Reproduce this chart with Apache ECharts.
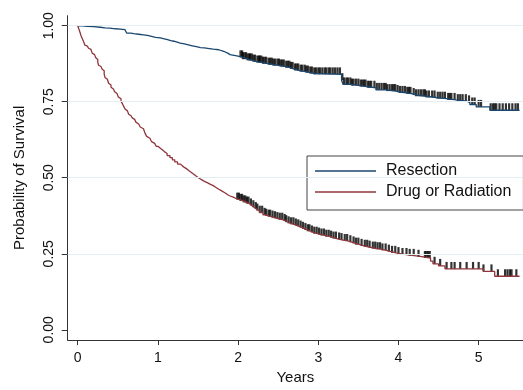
<!DOCTYPE html>
<html>
<head>
<meta charset="utf-8">
<script src="https://cdn.jsdelivr.net/npm/echarts@6/dist/echarts.min.js"></script>
<style>
html,body{margin:0;padding:0;background:#fff;}
#chart{width:523px;height:390px;}
</style>
</head>
<body>
<div id="chart"></div>
<script>
// ---- data ----
var seriesNames = ['Resection', 'Drug or Radiation'];
var xTicks = [0, 1, 2, 3, 4, 5];
var yTicks = [0, 0.25, 0.5, 0.75, 1];
var gridValues = [0.25, 0.5, 0.75, 1];

// Resection: Kaplan-Meier step points (time in years, survival)
var resectionT = [0, 0.06, 0.12, 0.20, 0.28, 0.34, 0.40, 0.47, 0.53, 0.59, 0.61, 0.66, 0.70, 0.76, 0.82, 0.87, 0.92, 0.97, 1.03, 1.08, 1.12, 1.16, 1.20, 1.24, 1.28, 1.33, 1.38, 1.43, 1.48, 1.53, 1.58, 1.64, 1.69, 1.76, 1.82, 1.87, 1.90, 2.00, 2.06, 2.12, 2.18, 2.23, 2.31, 2.38, 2.44, 2.52, 2.58, 2.65, 2.69, 2.76, 2.84, 2.90, 2.94, 3.29, 3.31, 3.42, 3.52, 3.60, 3.72, 3.85, 3.97, 4.01, 4.10, 4.18, 4.22, 4.35, 4.47, 4.60, 4.72, 4.85, 4.89, 4.97, 5.14, 5.51];
var resectionS = [1.0, 0.998, 0.997, 0.995, 0.993, 0.992, 0.990, 0.989, 0.987, 0.981, 0.976, 0.974, 0.972, 0.970, 0.968, 0.965, 0.962, 0.960, 0.957, 0.954, 0.951, 0.949, 0.946, 0.943, 0.940, 0.937, 0.934, 0.931, 0.928, 0.927, 0.925, 0.923, 0.921, 0.916, 0.910, 0.905, 0.900, 0.896, 0.890, 0.886, 0.882, 0.879, 0.875, 0.872, 0.869, 0.866, 0.862, 0.858, 0.853, 0.849, 0.846, 0.843, 0.840, 0.821, 0.807, 0.803, 0.800, 0.796, 0.789, 0.785, 0.782, 0.779, 0.776, 0.772, 0.768, 0.764, 0.760, 0.756, 0.752, 0.748, 0.741, 0.733, 0.722, 0.722];

// Drug or Radiation
var drugT = [0, 0.01, 0.02, 0.03, 0.04, 0.055, 0.07, 0.08, 0.09, 0.105, 0.12, 0.135, 0.15, 0.165, 0.18, 0.195, 0.21, 0.225, 0.24, 0.25, 0.26, 0.275, 0.29, 0.305, 0.32, 0.33, 0.34, 0.355, 0.37, 0.385, 0.40, 0.415, 0.43, 0.445, 0.46, 0.475, 0.49, 0.505, 0.52, 0.54, 0.56, 0.575, 0.59, 0.605, 0.62, 0.635, 0.65, 0.665, 0.68, 0.695, 0.71, 0.725, 0.74, 0.76, 0.78, 0.80, 0.82, 0.84, 0.86, 0.88, 0.90, 0.92, 0.94, 0.96, 0.98, 1.005, 1.03, 1.055, 1.08, 1.115, 1.15, 1.18, 1.21, 1.245, 1.28, 1.305, 1.33, 1.355, 1.38, 1.405, 1.43, 1.455, 1.48, 1.505, 1.53, 1.555, 1.58, 1.615, 1.65, 1.69, 1.725, 1.76, 1.80, 1.84, 1.87, 1.90, 1.94, 1.98, 2.02, 2.065, 2.11, 2.14, 2.17, 2.20, 2.23, 2.27, 2.31, 2.345, 2.38, 2.415, 2.45, 2.485, 2.52, 2.555, 2.59, 2.625, 2.66, 2.695, 2.73, 2.765, 2.80, 2.835, 2.87, 2.905, 2.94, 2.99, 3.04, 3.095, 3.15, 3.19, 3.23, 3.27, 3.31, 3.365, 3.42, 3.47, 3.52, 3.57, 3.62, 3.67, 3.72, 3.785, 3.85, 3.91, 3.97, 4.05, 4.12, 4.22, 4.31, 4.40, 4.43, 4.50, 4.58, 5.06, 5.20, 5.51];
var drugS = [1.0, 0.992, 0.985, 0.977, 0.968, 0.959, 0.950, 0.944, 0.936, 0.933, 0.930, 0.926, 0.922, 0.916, 0.910, 0.905, 0.900, 0.895, 0.889, 0.880, 0.870, 0.866, 0.862, 0.857, 0.852, 0.841, 0.830, 0.824, 0.818, 0.811, 0.805, 0.798, 0.792, 0.788, 0.783, 0.777, 0.772, 0.766, 0.760, 0.751, 0.742, 0.734, 0.726, 0.720, 0.714, 0.709, 0.704, 0.700, 0.697, 0.692, 0.688, 0.683, 0.677, 0.672, 0.667, 0.661, 0.656, 0.646, 0.636, 0.630, 0.625, 0.619, 0.613, 0.608, 0.603, 0.597, 0.592, 0.586, 0.580, 0.573, 0.566, 0.559, 0.552, 0.545, 0.539, 0.534, 0.530, 0.525, 0.520, 0.515, 0.510, 0.505, 0.500, 0.496, 0.492, 0.488, 0.484, 0.479, 0.474, 0.468, 0.462, 0.456, 0.450, 0.444, 0.440, 0.436, 0.431, 0.428, 0.424, 0.419, 0.415, 0.409, 0.403, 0.397, 0.392, 0.385, 0.378, 0.375, 0.372, 0.369, 0.367, 0.364, 0.362, 0.358, 0.354, 0.350, 0.347, 0.343, 0.340, 0.336, 0.332, 0.328, 0.324, 0.320, 0.316, 0.313, 0.310, 0.306, 0.303, 0.300, 0.297, 0.295, 0.292, 0.288, 0.284, 0.280, 0.276, 0.273, 0.270, 0.267, 0.265, 0.261, 0.257, 0.253, 0.249, 0.246, 0.243, 0.240, 0.236, 0.226, 0.217, 0.210, 0.200, 0.192, 0.176, 0.176];

// censoring times
var resectionCens = [2.03,2.05,2.06,2.08,2.10,2.12,2.14,2.15,2.17,2.19,2.21,2.24,2.26,2.27,2.29,2.31,2.33,2.35,2.38,2.40,2.42,2.44,2.46,2.49,2.51,2.53,2.55,2.57,2.60,2.62,2.64,2.66,2.68,2.71,2.73,2.75,2.78,2.80,2.83,2.85,2.87,2.90,2.92,2.95,2.97,3.00,3.02,3.05,3.08,3.10,3.13,3.15,3.18,3.21,3.24,3.27,3.30,3.32,3.35,3.37,3.40,3.42,3.44,3.47,3.50,3.53,3.55,3.57,3.59,3.62,3.64,3.66,3.70,3.73,3.76,3.79,3.82,3.84,3.86,3.89,3.92,3.94,3.96,3.99,4.02,4.05,4.08,4.11,4.13,4.15,4.19,4.22,4.25,4.28,4.31,4.33,4.35,4.38,4.42,4.45,4.49,4.52,4.55,4.58,4.62,4.64,4.66,4.70,4.74,4.77,4.80,4.84,4.88,4.92,4.95,5.00,5.03,5.15,5.18,5.20,5.22,5.26,5.30,5.34,5.38,5.42,5.46,5.49];
var drugCens = [1.99,2.01,2.03,2.05,2.07,2.09,2.11,2.13,2.16,2.19,2.22,2.24,2.27,2.30,2.33,2.35,2.38,2.40,2.43,2.46,2.49,2.52,2.55,2.58,2.60,2.63,2.66,2.69,2.72,2.75,2.78,2.81,2.84,2.87,2.89,2.92,2.95,2.98,3.01,3.04,3.07,3.10,3.13,3.16,3.19,3.22,3.26,3.29,3.33,3.36,3.40,3.44,3.47,3.50,3.54,3.58,3.61,3.64,3.68,3.71,3.74,3.77,3.80,3.84,3.88,3.92,3.96,4.00,4.05,4.10,4.14,4.19,4.25,4.33,4.35,4.37,4.39,4.45,4.52,4.60,4.66,4.70,4.77,4.85,4.93,5.00,5.06,5.16,5.24,5.33,5.36,5.39,5.41,5.47];

// ---- build ----
function pairs(t, s) { return t.map(function (v, i) { return [v, s[i]]; }); }
function survAt(t, T, S) {
  var v = S[0];
  for (var i = 0; i < T.length; i++) { if (T[i] <= t) v = S[i]; else break; }
  return v;
}
function censPts(C, T, S) { return C.map(function (c) { return [c, survAt(c, T, S)]; }); }

var FONT = 'Liberation Sans, Arial, Helvetica, sans-serif';
var BLUE = '#1a476f', RED = '#90353b';

var chart = echarts.init(document.getElementById('chart'), null, {renderer: 'canvas'});
chart.setOption({
  animation: false,
  backgroundColor: '#ffffff',
  textStyle: {fontFamily: FONT},
  grid: {left: 67.7, top: 15.7, width: 455.3, height: 332.6, containLabel: false},
  xAxis: {
    type: 'value', min: -0.125, max: 5.553,
    name: 'Years', nameLocation: 'middle', nameGap: 27,
    nameTextStyle: {fontFamily: FONT, fontSize: 15, color: '#111'},
    axisLine: {show: true, onZero: false, lineStyle: {color: '#333', width: 1}},
    axisTick: {show: true, length: 5, lineStyle: {color: '#333'}, customValues: xTicks},
    axisLabel: {customValues: xTicks, margin: 11, fontFamily: FONT, fontSize: 14, color: '#111',
      formatter: function (v) { return String(Math.round(v)); }},
    splitLine: {show: false}
  },
  yAxis: {
    type: 'value', min: -0.034, max: 1.033,
    name: 'Probability of Survival', nameLocation: 'middle', nameGap: 40,
    nameTextStyle: {fontFamily: FONT, fontSize: 15, color: '#111'},
    axisLine: {show: true, onZero: false, lineStyle: {color: '#333', width: 1}},
    axisTick: {show: true, length: 6, lineStyle: {color: '#333'}, customValues: yTicks},
    axisLabel: {customValues: yTicks, rotate: 90, margin: 12, fontFamily: FONT, fontSize: 14, color: '#111',
      formatter: function (v) { return v.toFixed(2); }},
    splitLine: {show: false}
  },
  legend: {
    data: [
      {name: seriesNames[0], icon: 'rect', itemStyle: {color: BLUE}},
      {name: seriesNames[1], icon: 'rect', itemStyle: {color: RED}}
    ],
    orient: 'vertical', left: 307, top: 156,
    itemWidth: 61, itemHeight: 1.3, itemGap: 5,
    padding: [7, 12, 10, 8],
    backgroundColor: '#fff', borderColor: '#444', borderWidth: 1, borderRadius: 0,
    textStyle: {fontFamily: FONT, fontSize: 16, color: '#111', padding: [0, 0, 0, 5]}
  },
  series: [
    {
      name: '_grid', type: 'line', data: [], z: 0, silent: true,
      markLine: {
        silent: true, symbol: ['none', 'none'], label: {show: false},
        lineStyle: {color: '#e4edf1', width: 1, type: 'solid'},
        data: gridValues.map(function (v) { return {yAxis: v}; })
      }
    },
    {
      name: '_cens1', type: 'scatter', data: censPts(resectionCens, resectionT, resectionS),
      symbol: 'rect', symbolSize: [2.2, 7], symbolOffset: [0, -3.5],
      itemStyle: {color: '#000'}, z: 2, silent: true
    },
    {
      name: '_cens2', type: 'scatter', data: censPts(drugCens, drugT, drugS),
      symbol: 'rect', symbolSize: [2.2, 7], symbolOffset: [0, -3.5],
      itemStyle: {color: '#000'}, z: 2, silent: true
    },
    {
      name: seriesNames[0], type: 'line', step: 'end', symbol: 'none', showSymbol: false,
      data: pairs(resectionT, resectionS), z: 3,
      lineStyle: {color: BLUE, width: 1.3}, itemStyle: {color: BLUE}
    },
    {
      name: seriesNames[1], type: 'line', step: 'end', symbol: 'none', showSymbol: false,
      data: pairs(drugT, drugS), z: 3,
      lineStyle: {color: RED, width: 1.3}, itemStyle: {color: RED}
    }
  ]
});
</script>
</body>
</html>
